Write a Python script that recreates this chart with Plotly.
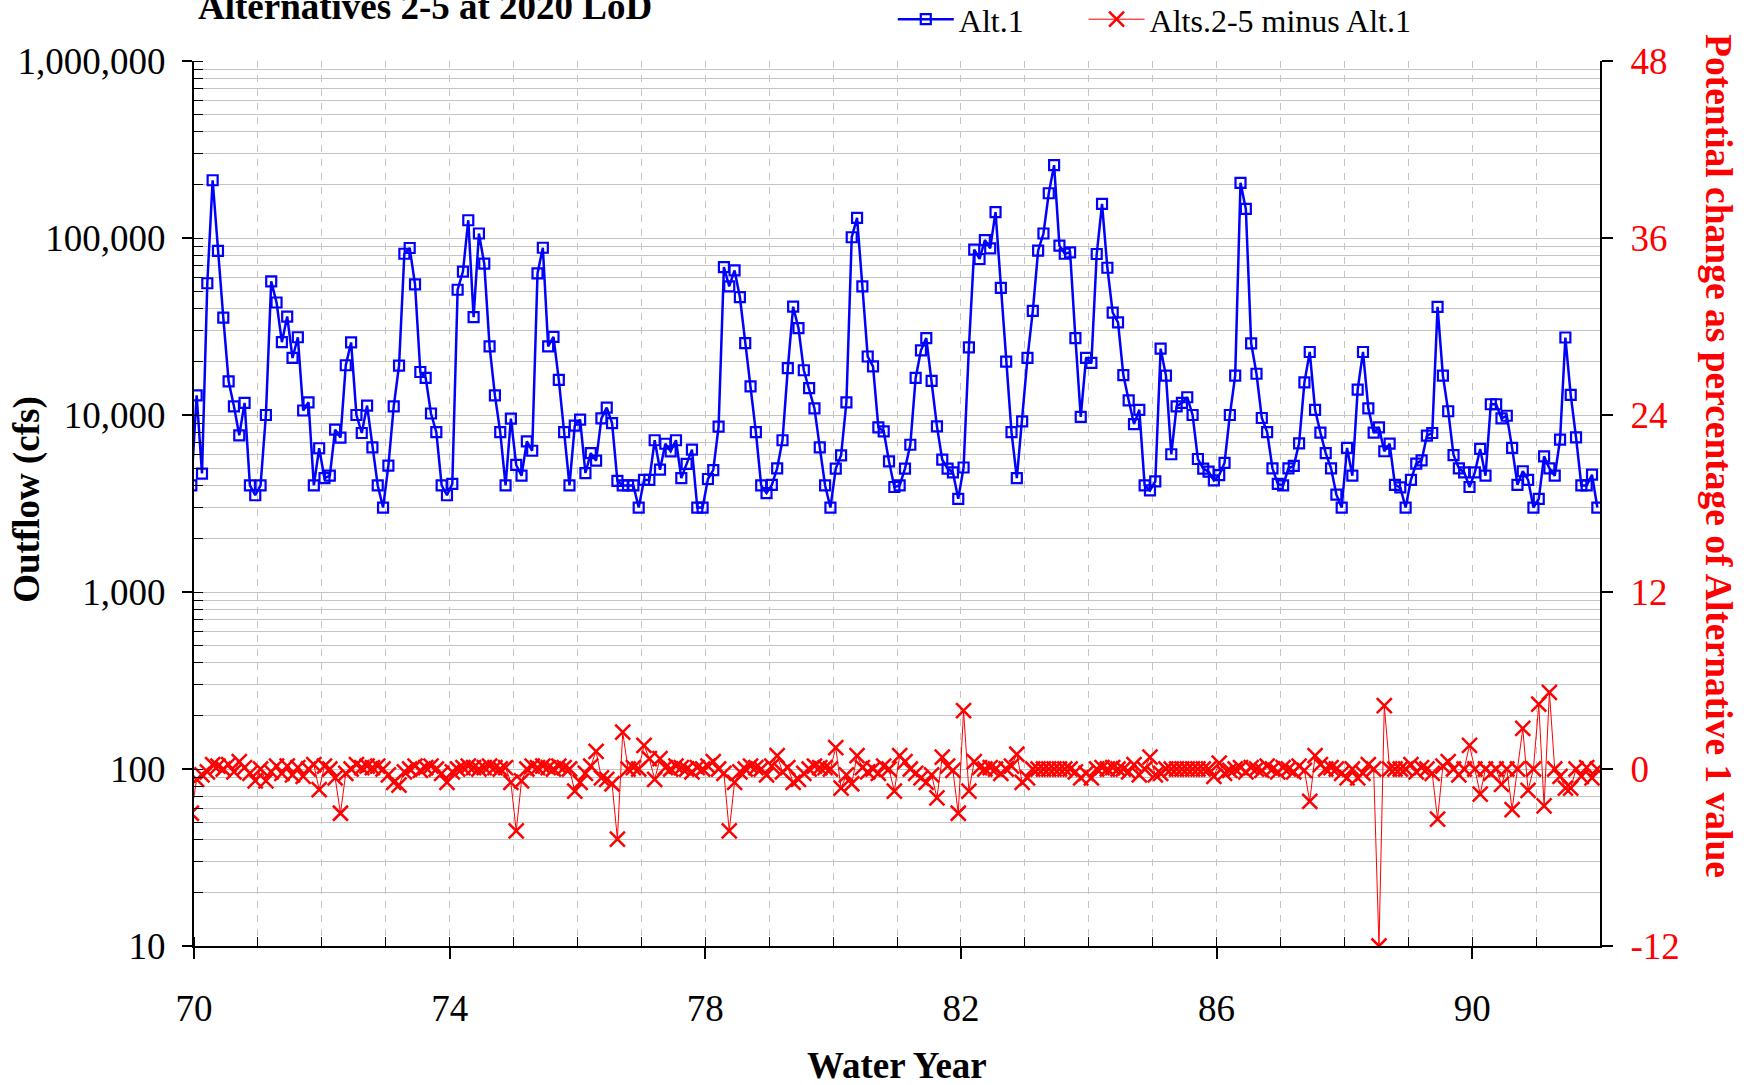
import plotly.graph_objects as go

# Monthly values, water years 70-91 (first value is the last month before WY70, clipped by the axis)
month_index = list(range(0, 265))

alt1 = [
    4000,
    12900, 4670, 55500, 212000, 84500, 35500, 15500, 11200, 7680, 11700, 4000, 3520,
    4000, 10000, 56900, 43200, 25800, 36000, 21000, 27500, 10600, 11800, 4000, 6490,
    4400, 4540, 8260, 7450, 19100, 25700, 10000, 7910, 11300, 6560, 4000, 3000,
    5180, 11200, 19000, 81500, 87800, 54700, 17500, 16200, 10200, 8000, 4000, 3520,
    4080, 51000, 64600, 126000, 35700, 106000, 71600, 24400, 12900, 8000, 4000, 9530,
    5220, 4540, 7100, 6280, 63100, 88100, 24400, 27600, 15800, 8000, 4000, 8710,
    9420, 4700, 6090, 5520, 9570, 11000, 9000, 4250, 4000, 4000, 4000, 3000,
    4300, 4300, 7200, 4910, 6880, 6230, 7200, 4400, 5300, 6370, 3000, 3000,
    4350, 4880, 8600, 68500, 53300, 65600, 46400, 25500, 14500, 8000, 4000, 3620,
    4030, 5000, 7200, 18400, 40900, 31000, 17900, 14200, 10900, 6560, 4000, 3000,
    4980, 5920, 11800, 101000, 130000, 53300, 21400, 18800, 8510, 8090, 5470, 3920,
    4000, 4980, 6790, 16200, 23200, 27200, 15600, 8630, 5590, 4980, 4740, 3360,
    5050, 24100, 85900, 76100, 97400, 87400, 140000, 52200, 20000, 8000, 4400, 9210,
    21000, 38800, 84800, 106000, 179000, 258000, 90500, 81500, 83000, 27200, 9750, 21000,
    19700, 81200, 156000, 67900, 37900, 33400, 16800, 12100, 8890, 10700, 4000, 3750,
    4220, 23700, 16700, 6000, 11200, 11700, 12600, 10000, 5640, 4980, 4790, 4270,
    4580, 5360, 10000, 16700, 205000, 146000, 25400, 17100, 9620, 8000, 5000, 4080,
    4000, 5000, 5160, 6920, 15300, 22700, 10700, 7950, 6090, 5000, 3550, 3000,
    6520, 4540, 13900, 22700, 10900, 7950, 8510, 6240, 6890, 4030, 3900, 3000,
    4300, 5310, 5540, 7640, 7910, 40800, 16700, 10500, 5940, 5000, 4740, 3920,
    4740, 6430, 4540, 11500, 11500, 9570, 9900, 6520, 4030, 4810, 4300, 3000,
    3360, 5840, 5000, 4540, 7260, 27400, 13000, 7480, 4000, 4000, 4600, 3000,
]

diff_pct = [
    -3.0,
    -0.7, -0.4, -0.2, 0.3, 0.2, 0.0, 0.3, -0.2, 0.5, 0.1, -0.3, -0.8,
    0.0, -0.8, -0.2, 0.2, -0.3, 0.2, -0.4, 0.1, -0.5, 0.0, 0.3, -1.4,
    0.2, 0.0, -0.6, -3.0, -0.3, 0.0, 0.3, 0.1, 0.2, 0.1, 0.2, 0.0,
    -0.4, -0.9, -1.1, -0.2, 0.0, 0.2, -0.1, 0.1, 0.2, 0.0, -0.3, -0.9,
    -0.2, 0.0, 0.1, 0.2, 0.1, 0.0, 0.1, 0.2, 0.1, 0.0, 0.1, -0.9,
    -4.2, -0.8, 0.0, 0.2, 0.1, 0.2, 0.1, 0.0, 0.2, 0.1, 0.0, -1.5,
    -0.9, -0.3, 0.2, 1.2, -0.6, -0.7, -1.0, -4.75, 2.5, 0.0, 0.1, 0.0,
    1.6, 0.7, -0.7, 0.7, 0.1, 0.0, 0.2, 0.1, 0.0, -0.2, 0.1, 0.0,
    0.2, 0.5, 0.0, -0.3, -4.2, -0.9, -0.2, 0.0, 0.2, 0.1, 0.0, -0.4,
    0.2, 0.9, -0.2, 0.1, -0.9, -0.7, -0.3, 0.0, 0.2, 0.1, 0.1, 0.0,
    1.45, -1.3, -0.4, -1.0, 0.9, 0.1, -0.2, 0.0, -0.3, 0.2, 0.0, -1.5,
    0.9, 0.5, 0.0, -0.3, -0.6, -0.9, -0.4, -1.95, 0.8, 0.2, -0.1, -3.0,
    3.95, -1.5, 0.5, 0.1, 0.0, 0.1, 0.0, -0.3, 0.0, 0.2, 1.0, -0.9,
    -0.6, 0.0, 0.0, 0.0, 0.0, 0.0, 0.0, 0.0, 0.0, -0.2, -0.6, -0.3,
    -0.6, 0.0, 0.1, 0.0, 0.1, 0.0, 0.0, -0.2, 0.3, -0.4, 0.0, 0.8,
    -0.4, -0.3, 0.0, 0.0, 0.0, 0.0, 0.0, 0.0, 0.0, 0.0, 0.0, -0.5,
    0.4, -0.3, -0.1, 0.0, 0.1, -0.2, 0.1, 0.0, -0.1, 0.2, 0.0, -0.2,
    0.1, 0.0, -0.2, 0.2, -0.1, -2.2, 0.9, 0.3, 0.0, 0.1, 0.0, -0.3,
    -0.6, 0.0, -0.6, -0.3, 0.3, 0.0, -12.0, 4.3, 0.0, 0.0, 0.0, 0.0,
    0.3, -0.2, 0.1, 0.0, -0.3, -3.4, 0.2, 0.5, 0.0, -0.4, 0.0, 1.6,
    0.0, -1.7, 0.0, -0.3, 0.0, -1.05, 0.0, -2.75, 0.0, 2.75, -1.45, 0.0,
    4.4, -2.5, 5.2, 0.0, -0.5, -1.3, -1.3, 0.0, -0.5, 0.1, -0.6, 0.0,
]

water_year = [70 + (m - 0.5) / 12 for m in month_index]

x_tickvals = [70, 74, 78, 82, 86, 90]
x_ticktext = ["70", "74", "78", "82", "86", "90"]
y_tickvals = [10, 100, 1000, 10000, 100000, 1000000]
y_ticktext = ["10", "100", "1,000", "10,000", "100,000", "1,000,000"]
y2_tickvals = [-12, 0, 12, 24, 36, 48]
y2_ticktext = ["-12", "0", "12", "24", "36", "48"]

SERIF = "Liberation Serif"
GRID = "#c4c4c4"

fig = go.Figure()
fig.add_trace(go.Scatter(
    x=water_year, y=alt1, name="Alt.1", mode="lines+markers",
    line=dict(color="#0000FF", width=2.5),
    marker=dict(symbol="square-open", size=10, color="#0000FF", line=dict(width=2.2, color="#0000FF")),
    yaxis="y", legend="legend",
))
fig.add_trace(go.Scatter(
    x=water_year, y=diff_pct, name="Alts.2-5 minus Alt.1", mode="lines+markers",
    line=dict(color="#FF0000", width=1),
    marker=dict(symbol="x-thin", size=15, color="#FF0000", line=dict(width=2.5, color="#FF0000")),
    yaxis="y2", legend="legend2",
))

legend_common = dict(
    orientation="h", xanchor="left", y=1.047, yanchor="middle",
    font=dict(family=SERIF, size=32, color="black"),
    bgcolor="rgba(0,0,0,0)", itemwidth=56,
)

fig.update_layout(
    width=1746, height=1085, autosize=False,
    margin=dict(l=194, r=146, t=61, b=139, pad=0, autoexpand=False),
    paper_bgcolor="white", plot_bgcolor="white",
    font=dict(family=SERIF, color="black"),
    showlegend=True,
    legend=dict(x=0.497, **legend_common),
    legend2=dict(x=0.6327, **legend_common),
    xaxis=dict(
        range=[70, 92], tickmode="array", tickvals=x_tickvals, ticktext=x_ticktext,
        ticks="outside", ticklen=11, tickwidth=1.5, tickcolor="black",
        showline=True, linecolor="black", linewidth=2, zeroline=False,
        showgrid=True, gridcolor=GRID, gridwidth=1, griddash="7px,7px",
        minor=dict(dtick=1, tick0=70, ticks="inside", ticklen=9, tickwidth=1, tickcolor="black",
                   showgrid=True, gridcolor=GRID, gridwidth=1, griddash="7px,7px"),
        tickfont=dict(family=SERIF, size=37, color="black"),
        ticklabelstandoff=18,
    ),
    yaxis=dict(
        type="log", range=[1, 6], tickmode="array", tickvals=y_tickvals, ticktext=y_ticktext,
        ticks="outside", ticklen=10, tickwidth=1.5, tickcolor="black",
        showline=True, linecolor="black", linewidth=2, zeroline=False,
        showgrid=True, gridcolor=GRID, gridwidth=1,
        minor=dict(dtick="D1", ticks="inside", ticklen=9, tickwidth=1, tickcolor="black",
                   showgrid=True, gridcolor=GRID, gridwidth=1),
        tickfont=dict(family=SERIF, size=37, color="black"),
        ticklabelstandoff=9,
    ),
    yaxis2=dict(
        overlaying="y", side="right", range=[-12, 48], tickmode="array",
        tickvals=y2_tickvals, ticktext=y2_ticktext,
        ticks="outside", ticklen=11, tickwidth=1.5, tickcolor="black",
        showline=True, linecolor="black", linewidth=2, zeroline=False, showgrid=False,
        tickfont=dict(family=SERIF, size=37, color="#FF0000"),
        ticklabelstandoff=10,
    ),
    annotations=[
        dict(text="<b>Alternatives 2-5 at 2020 LoD</b>", xref="paper", yref="paper",
             x=0, y=1.062, xanchor="left", yanchor="middle", xshift=2, showarrow=False,
             font=dict(family=SERIF, size=37, color="black")),
        dict(text="<b>Outflow (cfs)</b>", xref="paper", yref="paper",
             x=-0.119, y=0.505, xanchor="center", yanchor="middle", textangle=-90, showarrow=False,
             font=dict(family=SERIF, size=37, color="black")),
        dict(text="<b>Water Year</b>", xref="paper", yref="paper",
             x=0.5, y=-0.1345, xanchor="center", yanchor="middle", showarrow=False,
             font=dict(family=SERIF, size=37, color="black")),
        dict(text="<b>Potential change as percentage of Alternative 1 value</b>", xref="paper", yref="paper",
             x=1.0839, y=0.5537, xanchor="center", yanchor="middle", textangle=90, showarrow=False,
             font=dict(family=SERIF, size=37.5, color="#FF0000")),
    ],
)

fig.write_html("out.html")
